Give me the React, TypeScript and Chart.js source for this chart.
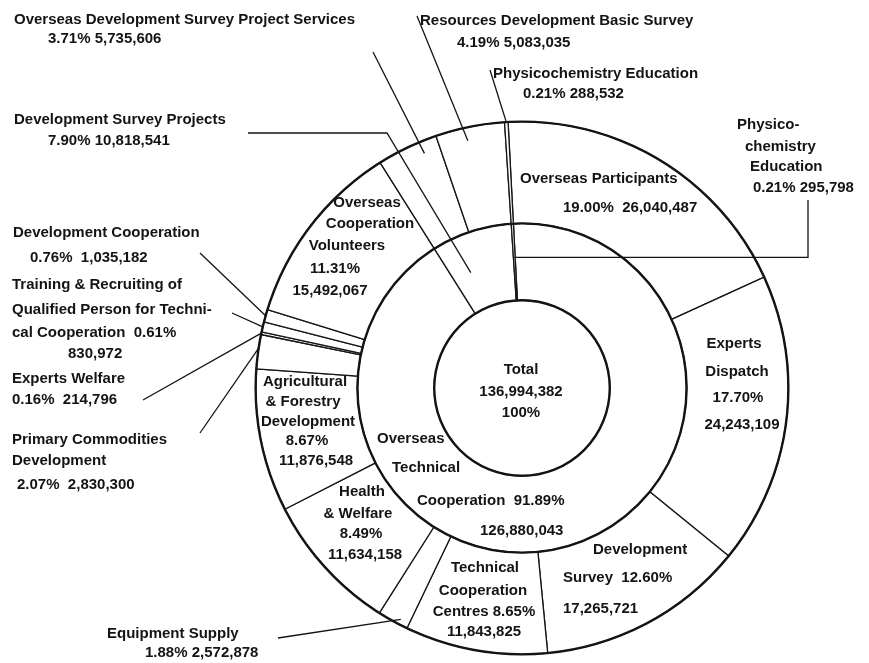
import React, { useEffect, useRef } from 'react';
import { Chart, ArcElement, DoughnutController } from 'chart.js';

Chart.register(ArcElement, DoughnutController);

// ---------------- data ----------------
const TOTAL_AMOUNT = 136994382;

const outerNames = [
  'Overseas Participants',
  'Experts Dispatch',
  'Development Survey',
  'Technical Cooperation Centres',
  'Equipment Supply',
  'Health & Welfare',
  'Agricultural & Forestry Development',
  'Primary Commodities Development',
  'Experts Welfare',
  'Training & Recruiting of Qualified Person for Technical Cooperation',
  'Development Cooperation',
  'Overseas Cooperation Volunteers',
  'Overseas Development Survey Project Services',
  'Resources Development Basic Survey',
  'Physicochemistry Education',
];
const outerPercents = [19.0, 17.7, 12.6, 8.65, 1.88, 8.49, 8.67, 2.07, 0.16, 0.61, 0.76, 11.31, 3.71, 4.19, 0.21];
const outerAmounts = [
  26040487, 24243109, 17265721, 11843825, 2572878, 11634158, 11876548, 2830300, 214796, 830972, 1035182,
  15492067, 5735606, 5083035, 288532,
];

const middleNames = ['Overseas Technical Cooperation', 'Development Survey Projects', 'Physicochemistry Education'];
const middlePercents = [91.89, 7.9, 0.21];
const middleAmounts = [126880043, 10818541, 295798];

const innerNames = ['Total'];
const innerPercents = [100];
const innerAmounts = [TOTAL_AMOUNT];

// ---------------- layout / style ----------------
const W = 869;
const H = 663;
const INK = '#141414';
const FONT = 'bold 15px "Liberation Sans", Arial, sans-serif';
const RING_WEIGHTS = [102, 77, 88];
const START_ANGLE = -3;
const PADDING = { left: 255, right: 80, top: 121, bottom: 8 };

type Line = [string, number, number];
type Label = { ds: number; i: number; align: CanvasTextAlign; lines: Line[] };
type Leader = { ds: number; i: number; pts: [number, number | null][]; at: number; rt: number };

const LABELS: Label[] = [
  { ds: 0, i: 0, align: 'left', lines: [['Overseas Participants', 520, 179], ['{p}  {a}', 563, 208]] },
  { ds: 0, i: 1, align: 'center', lines: [['Experts', 734, 344], ['Dispatch', 737, 372], ['{p}', 738, 398], ['{a}', 742, 425]] },
  { ds: 0, i: 2, align: 'left', lines: [['Development', 593, 550], ['Survey  {p}', 563, 578], ['{a}', 563, 609]] },
  { ds: 0, i: 3, align: 'center', lines: [['Technical', 485, 568], ['Cooperation', 483, 591], ['Centres {p}', 484, 612], ['{a}', 484, 632]] },
  { ds: 0, i: 4, align: 'left', lines: [['Equipment Supply', 107, 634], ['{p} {a}', 145, 653]] },
  { ds: 0, i: 5, align: 'center', lines: [['Health', 362, 492], ['& Welfare', 358, 514], ['{p}', 361, 534], ['{a}', 365, 555]] },
  { ds: 0, i: 6, align: 'center', lines: [['Agricultural', 305, 382], ['& Forestry', 303, 402], ['Development', 308, 422], ['{p}', 307, 441], ['{a}', 316, 461]] },
  { ds: 0, i: 7, align: 'left', lines: [['Primary Commodities', 12, 440], ['Development', 12, 461], ['{p}  {a}', 17, 485]] },
  { ds: 0, i: 8, align: 'left', lines: [['Experts Welfare', 12, 379], ['{p}  {a}', 12, 400]] },
  { ds: 0, i: 9, align: 'left', lines: [['Training & Recruiting of', 12, 285], ['Qualified Person for Techni-', 12, 310], ['cal Cooperation  {p}', 12, 333], ['{a}', 68, 354]] },
  { ds: 0, i: 10, align: 'left', lines: [['Development Cooperation', 13, 233], ['{p}  {a}', 30, 258]] },
  { ds: 0, i: 11, align: 'center', lines: [['Overseas', 367, 203], ['Cooperation', 370, 224], ['Volunteers', 347, 246], ['{p}', 335, 269], ['{a}', 330, 291]] },
  { ds: 0, i: 12, align: 'left', lines: [['Overseas Development Survey Project Services', 14, 20], ['{p} {a}', 48, 39]] },
  { ds: 0, i: 13, align: 'left', lines: [['Resources Development Basic Survey', 420, 21], ['{p} {a}', 457, 43]] },
  { ds: 0, i: 14, align: 'left', lines: [['Physicochemistry Education', 493, 74], ['{p} {a}', 523, 94]] },
  { ds: 1, i: 0, align: 'left', lines: [['Overseas', 377, 439], ['Technical', 392, 468], ['Cooperation  {p}', 417, 501], ['{a}', 480, 531]] },
  { ds: 1, i: 1, align: 'left', lines: [['Development Survey Projects', 14, 120], ['{p} {a}', 48, 141]] },
  { ds: 1, i: 2, align: 'left', lines: [['Physico-', 737, 125], ['chemistry', 745, 147], ['Education', 750, 167], ['{p} {a}', 753, 188]] },
  { ds: 2, i: 0, align: 'center', lines: [['Total', 521, 370], ['{a}', 521, 392], ['{p}', 521, 413]] },
];

const LEADERS: Leader[] = [
  { ds: 0, i: 4, pts: [[278, 638]], at: 0.3, rt: 0.95 },
  { ds: 0, i: 7, pts: [[200, 433]], at: 0.6, rt: 1.0 },
  { ds: 0, i: 8, pts: [[143, 400]], at: 0.5, rt: 1.0 },
  { ds: 0, i: 9, pts: [[232, 313]], at: 0.5, rt: 1.0 },
  { ds: 0, i: 10, pts: [[200, 253]], at: 0.5, rt: 1.0 },
  { ds: 0, i: 12, pts: [[373, 52]], at: 0.72, rt: 0.88 },
  { ds: 0, i: 13, pts: [[417, 16]], at: 0.43, rt: 0.87 },
  { ds: 0, i: 14, pts: [[490, 70]], at: 0.5, rt: 1.0 },
  { ds: 1, i: 1, pts: [[248, 133], [387, 133]], at: 0.29, rt: 0.5 },
  { ds: 1, i: 2, pts: [[808, 200], [808, null]], at: 0.5, rt: 0.56 },
];

const SERIES = [
  { p: outerPercents, a: outerAmounts, dp: 2 },
  { p: middlePercents, a: middleAmounts, dp: 2 },
  { p: innerPercents, a: innerAmounts, dp: 0 },
];

const fmtP = (v: number, dp: number) => v.toFixed(dp) + '%';
const fmtA = (v: number) => v.toLocaleString('en-US');

const labelPlugin = {
  id: 'scanLabels',
  afterDatasetsDraw(chart: any) {
    const ctx: CanvasRenderingContext2D = chart.ctx;
    ctx.save();
    // ring circles (thicker than radial separators)
    const radii: number[] = [];
    chart.data.datasets.forEach((_: any, di: number) => {
      const el = chart.getDatasetMeta(di).data[0];
      radii.push(el.outerRadius);
    });
    const c = chart.getDatasetMeta(0).data[0];
    ctx.strokeStyle = INK;
    ctx.lineWidth = 2.4;
    radii.forEach((r) => {
      ctx.beginPath();
      ctx.arc(c.x, c.y, r, 0, Math.PI * 2);
      ctx.stroke();
    });
    // leader lines
    ctx.lineWidth = 1.3;
    LEADERS.forEach((L) => {
      const el = chart.getDatasetMeta(L.ds).data[L.i];
      const a = el.startAngle + L.at * (el.endAngle - el.startAngle);
      const r = el.innerRadius + L.rt * (el.outerRadius - el.innerRadius);
      const tx = el.x + r * Math.cos(a);
      const ty = el.y + r * Math.sin(a);
      ctx.beginPath();
      L.pts.forEach((p, k) => {
        const y = p[1] === null ? ty : p[1];
        if (k === 0) ctx.moveTo(p[0], y);
        else ctx.lineTo(p[0], y);
      });
      ctx.lineTo(tx, ty);
      ctx.stroke();
    });
    // texts
    ctx.fillStyle = INK;
    ctx.font = FONT;
    ctx.textBaseline = 'middle';
    LABELS.forEach((L) => {
      ctx.textAlign = L.align;
      const s = SERIES[L.ds];
      L.lines.forEach(([t, x, y]) => {
        const txt = t.replace('{p}', fmtP(s.p[L.i], s.dp)).replace('{a}', fmtA(s.a[L.i]));
        ctx.fillText(txt, x, y);
      });
    });
    ctx.restore();
  },
};

export default function App() {
  const ref = useRef<HTMLCanvasElement | null>(null);
  useEffect(() => {
    if (!ref.current) return;
    const ring = (data: number[], weight: number, bw: number) => ({
      data,
      weight,
      backgroundColor: '#ffffff',
      borderColor: INK,
      borderWidth: bw,
      hoverOffset: 0,
    });
    const chart = new Chart(ref.current, {
      type: 'doughnut',
      data: {
        labels: outerNames,
        datasets: [
          { ...ring(outerPercents, RING_WEIGHTS[0], 1.3), label: 'outer' },
          { ...ring(middlePercents, RING_WEIGHTS[1], 1.3), label: middleNames.join('|') },
          { ...ring(innerPercents, RING_WEIGHTS[2], 0), label: innerNames[0] },
        ] as any,
      },
      options: {
        responsive: false,
        animation: false,
        cutout: 0,
        rotation: START_ANGLE,
        events: [],
        layout: { padding: PADDING },
        plugins: { legend: { display: false }, tooltip: { enabled: false } },
      } as any,
      plugins: [labelPlugin],
    });
    return () => chart.destroy();
  }, []);
  return (
    <div style={{ position: 'fixed', left: 0, top: 0, width: W, height: H, background: '#fff' }}>
      <canvas ref={ref} width={W} height={H} style={{ display: 'block' }} />
    </div>
  );
}
